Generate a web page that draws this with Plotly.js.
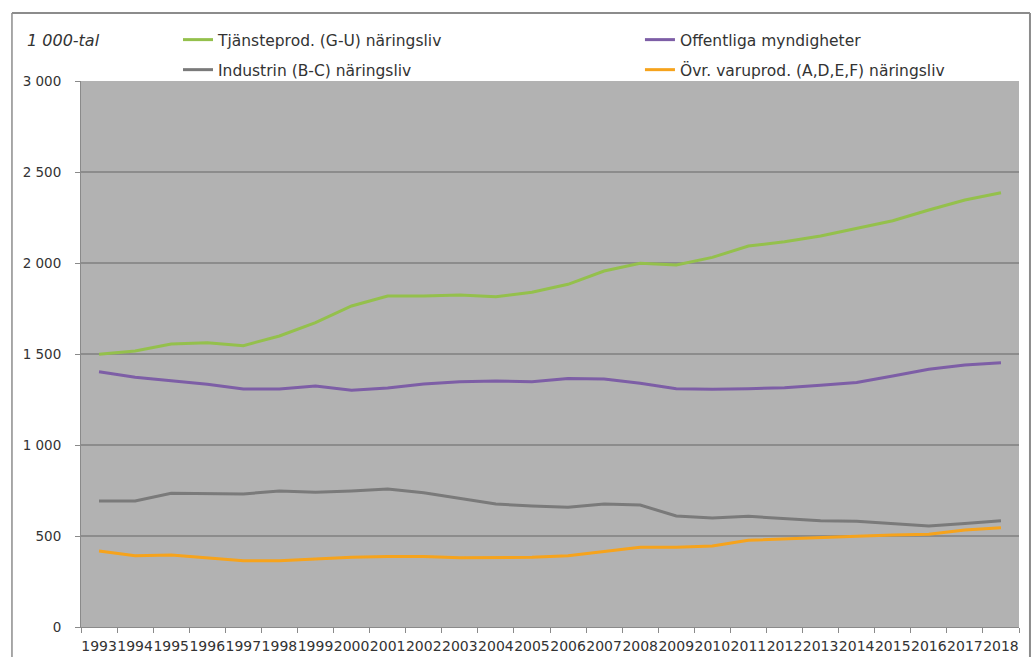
<!DOCTYPE html>
<html>
<head>
<meta charset="utf-8">
<script src="https://cdn.plot.ly/plotly-3.0.1.min.js"></script>
<style>html,body{margin:0;padding:0;background:#fff;}#chart{width:1035px;height:657px;}</style>
</head>
<body>
<div id="chart"></div>
<script>
var years = ['1993','1994','1995','1996','1997','1998','1999','2000','2001','2002','2003','2004','2005','2006','2007','2008','2009','2010','2011','2012','2013','2014','2015','2016','2017','2018'];
var tjanste = [1498,1516,1555,1562,1546,1599,1672,1764,1819,1819,1824,1815,1839,1883,1956,1998,1989,2031,2093,2117,2148,2191,2232,2291,2346,2386];
var offentliga = [1403,1372,1353,1334,1308,1308,1324,1301,1313,1335,1348,1352,1348,1366,1363,1339,1309,1306,1309,1315,1328,1344,1379,1416,1440,1452];
var industrin = [692,692,735,731,731,747,740,747,758,738,707,676,665,658,676,670,610,599,608,595,584,581,568,555,568,584];
var ovrvaru = [418,392,396,381,364,364,374,383,388,388,381,381,383,392,414,438,438,445,476,482,489,498,505,509,533,546];
var names = ['Tjänsteprod. (G-U) näringsliv','Offentliga myndigheter','Industrin (B-C) näringsliv','Övr. varuprod. (A,D,E,F) näringsliv'];
var colors = ['#94c04c','#7d5ea6','#7a7a7a','#f6a31c'];

var FONT = 'DejaVu Sans, sans-serif';
var series = [tjanste, offentliga, industrin, ovrvaru];
var legendIds = ['legend','legend2','legend3','legend4'];
var data = series.map(function(s,i){
  return {x: years, y: s, type:'scatter', mode:'lines', name: names[i],
    line:{color: colors[i], width: 3}, legend: legendIds[i], hoverinfo:'skip'};
});

function leg(x, y){
  return {x:x, y:y, orientation:'h', xanchor:'left', yanchor:'middle', bgcolor:'rgba(0,0,0,0)',
    font:{family:FONT, size:15.5, color:'#333'}, itemclick:false, itemdoubleclick:false};
}
// paper x = (px - 81)/938 ; paper y = (627 - px)/546
var layout = {
  width:1035, height:657,
  margin:{l:81, r:16, t:81, b:30},
  paper_bgcolor:'#ffffff', plot_bgcolor:'#b2b2b2',
  separators:', ',
  font:{family:FONT, size:13.5, color:'#333'},
  showlegend:true,
  legend: leg(0.1034, 1.075),
  legend2: leg(0.5959, 1.075),
  legend3: leg(0.1034, 1.020),
  legend4: leg(0.5959, 1.020),
  xaxis:{type:'category', range:[-0.5, years.length-0.5], tickson:'boundaries', ticks:'outside', ticklen:5, tickcolor:'#8a8a8a',
    showline:true, linecolor:'#8a8a8a', linewidth:1, showgrid:false, zeroline:false,
    tickfont:{family:FONT, size:14, color:'#333'}, tickangle:0, ticklabelstandoff:6, automargin:false},
  yaxis:{range:[0,3000], dtick:500, tick0:0, tickformat:',d', ticks:'outside', ticklen:5,
    tickcolor:'#8a8a8a', showline:true, linecolor:'#8a8a8a', linewidth:1,
    showgrid:true, gridcolor:'#8c8c8c', gridwidth:1.5, zeroline:false,
    tickfont:{family:FONT, size:13.5, color:'#333'}, ticklabelstandoff:11, automargin:false},
  annotations:[{text:'<i>1 000-tal</i>', xref:'paper', yref:'paper', x:-0.0597, y:1.075,
    xanchor:'left', yanchor:'middle', showarrow:false, font:{family:FONT, size:16, color:'#333'}}],
  shapes:[
    {type:'line', xref:'paper', yref:'paper', x0:-0.0736, x1:-0.0736, y0:1.1245, y1:-0.1, line:{color:'#8c8c8c', width:1.5}},
    {type:'line', xref:'paper', yref:'paper', x0:1.0117, x1:1.0117, y0:1.1245, y1:-0.1, line:{color:'#8c8c8c', width:2}},
    {type:'line', xref:'paper', yref:'paper', x0:-0.0736, x1:1.0117, y0:1.1245, y1:1.1245, line:{color:'#8c8c8c', width:2}}
  ]
};
Plotly.newPlot('chart', data, layout, {displayModeBar:false, staticPlot:true});
</script>
</body>
</html>
